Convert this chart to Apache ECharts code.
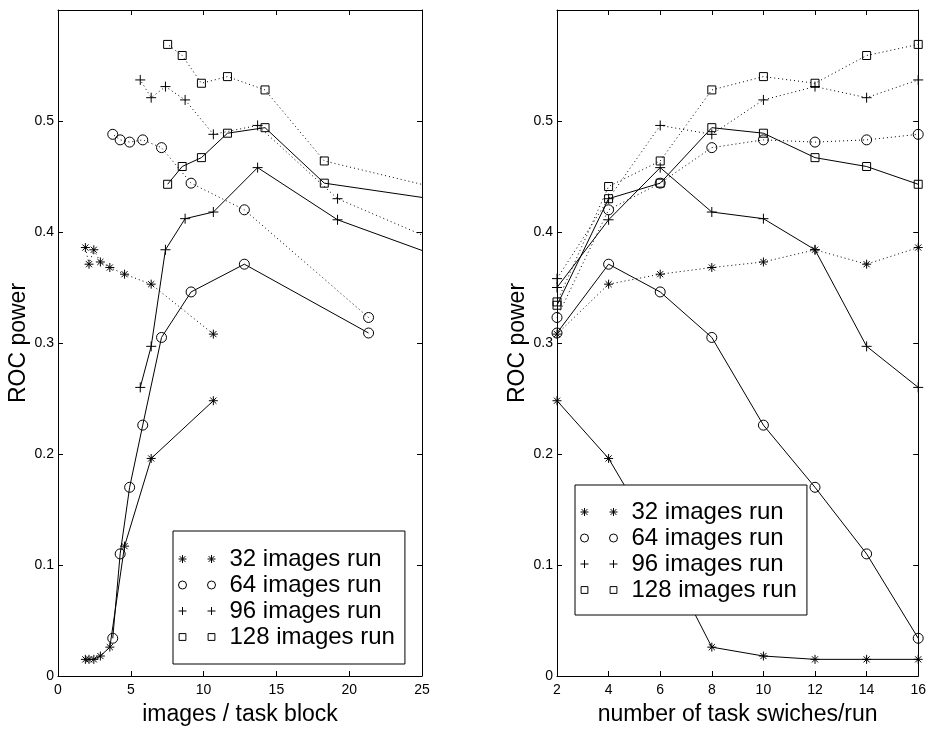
<!DOCTYPE html>
<html>
<head>
<meta charset="utf-8">
<title>ROC power</title>
<script src="https://cdn.jsdelivr.net/npm/echarts@6/dist/echarts.min.js"></script>
<style>
  html, body { margin: 0; padding: 0; background: #fff; }
  #main { width: 929px; height: 731px; }
</style>
</head>
<body>
<div id="main"></div>
<script>
// number of task switches per run (right panel x)
var switches = [2, 4, 6, 8, 10, 12, 14, 16];

// images per task block (left panel x), one list per run size
var block32 = [10.67, 6.4, 4.57, 3.56, 2.91, 2.46, 2.13, 1.88];
var block64 = [21.33, 12.8, 9.14, 7.11, 5.82, 4.92, 4.27, 3.76];
var block96 = [32, 19.2, 13.71, 10.67, 8.73, 7.38, 6.4, 5.65];
var block128 = [42.67, 25.6, 18.29, 14.22, 11.64, 9.85, 8.53, 7.53];

// ROC power, solid curves
var solid32 = [0.248, 0.196, 0.117, 0.026, 0.018, 0.015, 0.015, 0.015];
var solid64 = [0.309, 0.371, 0.346, 0.305, 0.226, 0.170, 0.110, 0.034];
var solid96 = [0.350, 0.411, 0.458, 0.418, 0.412, 0.384, 0.297, 0.260];
var solid128 = [0.334, 0.430, 0.444, 0.494, 0.489, 0.467, 0.459, 0.443];

// ROC power, dotted curves
var dot32 = [0.308, 0.353, 0.362, 0.368, 0.373, 0.384, 0.371, 0.386];
var dot64 = [0.323, 0.420, 0.444, 0.476, 0.483, 0.481, 0.483, 0.488];
var dot96 = [0.358, 0.430, 0.496, 0.488, 0.519, 0.531, 0.521, 0.537];
var dot128 = [0.337, 0.441, 0.464, 0.528, 0.540, 0.534, 0.559, 0.569];

var runNames = ['32 images run', '64 images run', '96 images run', '128 images run'];
var xTicksLeft = [0, 5, 10, 15, 20, 25];
var xTicksRight = [2, 4, 6, 8, 10, 12, 14, 16];

var FONT = 'Liberation Sans, Arial, Helvetica, sans-serif';

// marker shapes
var symbols = {
  star: 'path://M0 5 L10 5 M5 0 L5 10 M1.6 1.6 L8.4 8.4 M1.6 8.4 L8.4 1.6',
  circle: 'path://M10 5 A5 5 0 1 1 0 5 A5 5 0 1 1 10 5 Z',
  plus: 'path://M0 5 L10 5 M5 0 L5 10',
  square: 'path://M0 0 L10 0 L10 10 L0 10 Z'
};
var kinds = ['star', 'circle', 'plus', 'square'];
var sizes = [9, 10, 10, 8];

// legend icon: two markers side by side
function marker(kind, cx, h) {
  var y = 5;
  if (kind === 'star') {
    var d = h * 0.72;
    return 'M' + (cx - h) + ' ' + y + ' L' + (cx + h) + ' ' + y +
      ' M' + cx + ' ' + (y - h) + ' L' + cx + ' ' + (y + h) +
      ' M' + (cx - d) + ' ' + (y - d) + ' L' + (cx + d) + ' ' + (y + d) +
      ' M' + (cx - d) + ' ' + (y + d) + ' L' + (cx + d) + ' ' + (y - d) + ' ';
  }
  if (kind === 'circle') {
    return 'M' + (cx + h) + ' ' + y + ' A' + h + ' ' + h + ' 0 1 1 ' + (cx - h) + ' ' + y +
      ' A' + h + ' ' + h + ' 0 1 1 ' + (cx + h) + ' ' + y + ' Z ';
  }
  if (kind === 'plus') {
    return 'M' + (cx - h) + ' ' + y + ' L' + (cx + h) + ' ' + y +
      ' M' + cx + ' ' + (y - h) + ' L' + cx + ' ' + (y + h) + ' ';
  }
  var s = h * 0.85;
  return 'M' + (cx - s) + ' ' + (y - s) + ' L' + (cx + s) + ' ' + (y - s) +
    ' L' + (cx + s) + ' ' + (y + s) + ' L' + (cx - s) + ' ' + (y + s) + ' Z ';
}
function legendIcon(kind) {
  return 'path://M0 0 M47 10 ' + marker(kind, 5, 4) + marker(kind, 34, 4);
}

function zip(xs, ys) {
  return xs.map(function (x, i) { return [x, ys[i]]; });
}

var leftX = [block32, block64, block96, block128];
var solidY = [solid32, solid64, solid96, solid128];
var dotY = [dot32, dot64, dot96, dot128];

var series = [];
function addSeries(xIdx, yIdx, xsList) {
  for (var i = 0; i < 4; i++) {
    [['solid', solidY[i]], [[1, 3], dotY[i]]].forEach(function (pair) {
      series.push({
        name: runNames[i],
        type: 'line',
        xAxisIndex: xIdx,
        yAxisIndex: yIdx,
        data: zip(xsList[i], pair[1]),
        symbol: symbols[kinds[i]],
        symbolSize: sizes[i],
        showAllSymbol: true,
        clip: true,
        itemStyle: { color: 'rgba(0,0,0,0)', borderColor: '#000', borderWidth: 1 },
        lineStyle: { color: '#000', width: 1, type: pair[0] },
        emphasis: { disabled: true }
      });
    });
  }
}
addSeries(0, 0, leftX);
addSeries(2, 2, [switches, switches, switches, switches]);

function bottomAxis(grid, min, max, interval, name) {
  return {
    type: 'value', gridIndex: grid, position: 'bottom',
    min: min, max: max, interval: interval,
    name: name, nameLocation: 'middle', nameGap: 27,
    nameTextStyle: { color: '#000', fontSize: 23, fontFamily: FONT },
    axisLine: { show: true, onZero: false, lineStyle: { color: '#000', width: 1 } },
    axisTick: { show: true, inside: true, length: 5, lineStyle: { color: '#000' } },
    axisLabel: { color: '#000', fontSize: 14, fontFamily: FONT, margin: 7 },
    splitLine: { show: false }
  };
}
function topAxis(grid, min, max, interval) {
  return {
    type: 'value', gridIndex: grid, position: 'top',
    min: min, max: max, interval: interval,
    axisLine: { show: true, onZero: false, lineStyle: { color: '#000', width: 1 } },
    axisTick: { show: true, inside: true, length: 5, lineStyle: { color: '#000' } },
    axisLabel: { show: false },
    splitLine: { show: false }
  };
}
function leftAxis(grid) {
  return {
    type: 'value', gridIndex: grid, position: 'left',
    min: 0, max: 0.6, interval: 0.1,
    name: 'ROC power', nameLocation: 'middle', nameGap: 27,
    nameTextStyle: { color: '#000', fontSize: 23, fontFamily: FONT },
    axisLine: { show: true, onZero: false, lineStyle: { color: '#000', width: 1 } },
    axisTick: { show: true, inside: true, length: 5, lineStyle: { color: '#000' } },
    axisLabel: { color: '#000', fontSize: 14, fontFamily: FONT, margin: 4, showMaxLabel: false },
    splitLine: { show: false }
  };
}
function rightAxis(grid) {
  return {
    type: 'value', gridIndex: grid, position: 'right',
    min: 0, max: 0.6, interval: 0.1,
    axisLine: { show: true, onZero: false, lineStyle: { color: '#000', width: 1 } },
    axisTick: { show: true, inside: true, length: 5, lineStyle: { color: '#000' } },
    axisLabel: { show: false },
    splitLine: { show: false }
  };
}

function legendFor(left, top, padding) {
  return {
    orient: 'vertical',
    left: left, top: top,
    padding: padding,
    itemGap: 2,
    itemWidth: 47,
    itemHeight: 10,
    selectedMode: false,
    backgroundColor: '#fff',
    borderColor: '#000',
    borderWidth: 1,
    borderRadius: 0,
    textStyle: { color: '#000', fontSize: 24, lineHeight: 24, fontFamily: FONT },
    itemStyle: { color: 'rgba(0,0,0,0)', borderColor: '#000', borderWidth: 1 },
    data: runNames.map(function (n, i) {
      return { name: n, icon: legendIcon(kinds[i]) };
    })
  };
}

var myChart = echarts.init(document.getElementById('main'), null, { renderer: 'canvas' });

var option = {
  animation: false,
  backgroundColor: '#fff',
  grid: [
    { left: 58, top: 10, width: 364, height: 675 },
    { left: 557, top: 10, width: 364, height: 675 }
  ],
  xAxis: [
    bottomAxis(0, xTicksLeft[0], xTicksLeft[xTicksLeft.length - 1], 5, 'images / task block'),
    topAxis(0, 0, 25, 5),
    bottomAxis(1, xTicksRight[0], xTicksRight[xTicksRight.length - 1], 2, 'number of task swiches/run'),
    topAxis(1, 2, 16, 2)
  ],
  yAxis: [leftAxis(0), rightAxis(0), leftAxis(1), rightAxis(1)],
  legend: [
    legendFor(173, 531, [16, 10, 15, 4]),
    legendFor(575, 485, [15, 10, 13, 4])
  ],
  series: series
};

myChart.setOption(option);
</script>
</body>
</html>
